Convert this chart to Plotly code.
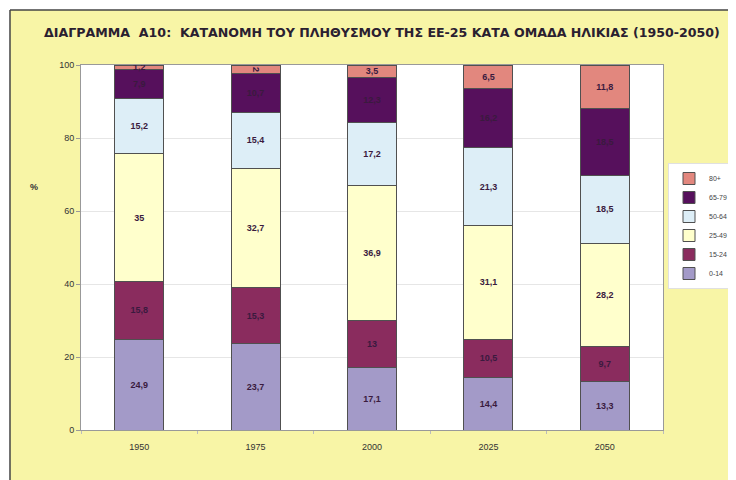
import plotly.graph_objects as go

years = ["1950", "1975", "2000", "2025", "2050"]
age_groups = ["0-14", "15-24", "25-49", "50-64", "65-79", "80+"]
values = {
    "0-14": [24.9, 23.7, 17.1, 14.4, 13.3],
    "15-24": [15.8, 15.3, 13, 10.5, 9.7],
    "25-49": [35, 32.7, 36.9, 31.1, 28.2],
    "50-64": [15.2, 15.4, 17.2, 21.3, 18.5],
    "65-79": [7.9, 10.7, 12.3, 16.2, 18.5],
    "80+": [1.2, 2, 3.5, 6.5, 11.8],
}
colors = {
    "0-14": "#A39AC8",
    "15-24": "#8A2C5E",
    "25-49": "#FFFFCC",
    "50-64": "#DDEEF7",
    "65-79": "#56105C",
    "80+": "#E2877E",
}

fig = go.Figure()
for g in age_groups:
    fig.add_trace(go.Bar(
        x=years, y=values[g], name=g,
        marker=dict(color=colors[g], line=dict(color="#505050", width=1)),
        text=["<b>" + str(v).replace(".", ",") + "</b>" for v in values[g]],
        textposition="inside", insidetextanchor="middle",
        textfont=dict(family="Liberation Sans, Arial", size=9, color="#3A1A3E"),
        constraintext="none",
    ))

# the page body adds an 8px offset, so the figure is 8px smaller and margins shifted
fig.update_layout(
    barmode="stack",
    bargap=0.58,
    width=728, height=472,
    margin=dict(l=73, r=73, t=57, b=50, autoexpand=False),
    paper_bgcolor="#F8F5A6",
    plot_bgcolor="white",
    font=dict(family="Liberation Sans, Arial", color="#333333"),
    uniformtext=dict(minsize=8, mode="show"),
    title=dict(
        text="<b>ΔΙΑΓΡΑΜΜΑ  Α10:  ΚΑΤΑΝΟΜΗ ΤΟΥ ΠΛΗΘΥΣΜΟΥ ΤΗΣ ΕΕ-25 ΚΑΤΑ ΟΜΑΔΑ ΗΛΙΚΙΑΣ (1950-2050)</b>",
        x=0.5137, xanchor="center", y=0.947, yanchor="middle",
        font=dict(family="DejaVu Sans", size=12.6, color="#2A2030"),
    ),
    legend=dict(
        x=1.0086, y=0.7315, xanchor="left", yanchor="top",
        bgcolor="white", bordercolor="#E0E0E0", borderwidth=1,
        font=dict(size=7, color="#444444"),
        traceorder="reversed", itemwidth=30,
    ),
    showlegend=True,
)
fig.update_yaxes(
    range=[0, 100], dtick=20, showgrid=True, gridcolor="#E6E6E6",
    showline=True, linecolor="#999999", ticks="outside", ticklen=4,
    tickcolor="#999999", tickfont=dict(size=9, color="#333333"),
    mirror=True,
)
fig.update_xaxes(
    showline=True, linecolor="#999999", ticks="outside", ticklen=3, tickcolor="#BBBBBB",
    tickson="boundaries", ticklabelstandoff=8,
    tickfont=dict(size=9, color="#333333"),
    mirror=True,
)
fig.add_annotation(text="<b>%</b>", xref="paper", yref="paper", x=-0.091, y=0.666,
                   showarrow=False, font=dict(size=9, color="#333333"))
# dark frame edge at top and left
fig.add_shape(type="rect", xref="paper", yref="paper", x0=-0.2, x1=1.3, y0=1.151, y1=1.2,
              fillcolor="white", line=dict(width=0), layer="below")
fig.add_shape(type="rect", xref="paper", yref="paper", x0=-0.2, x1=-0.122, y0=-0.2, y1=1.2,
              fillcolor="white", line=dict(width=0), layer="below")
fig.add_shape(type="line", xref="paper", yref="paper", x0=-0.122, x1=1.3, y0=1.151, y1=1.151,
              line=dict(color="#444444", width=1.5))
fig.add_shape(type="line", xref="paper", yref="paper", x0=-0.122, x1=-0.122, y0=-0.2, y1=1.151,
              line=dict(color="#444444", width=1.5))

fig.write_html("out.html")
